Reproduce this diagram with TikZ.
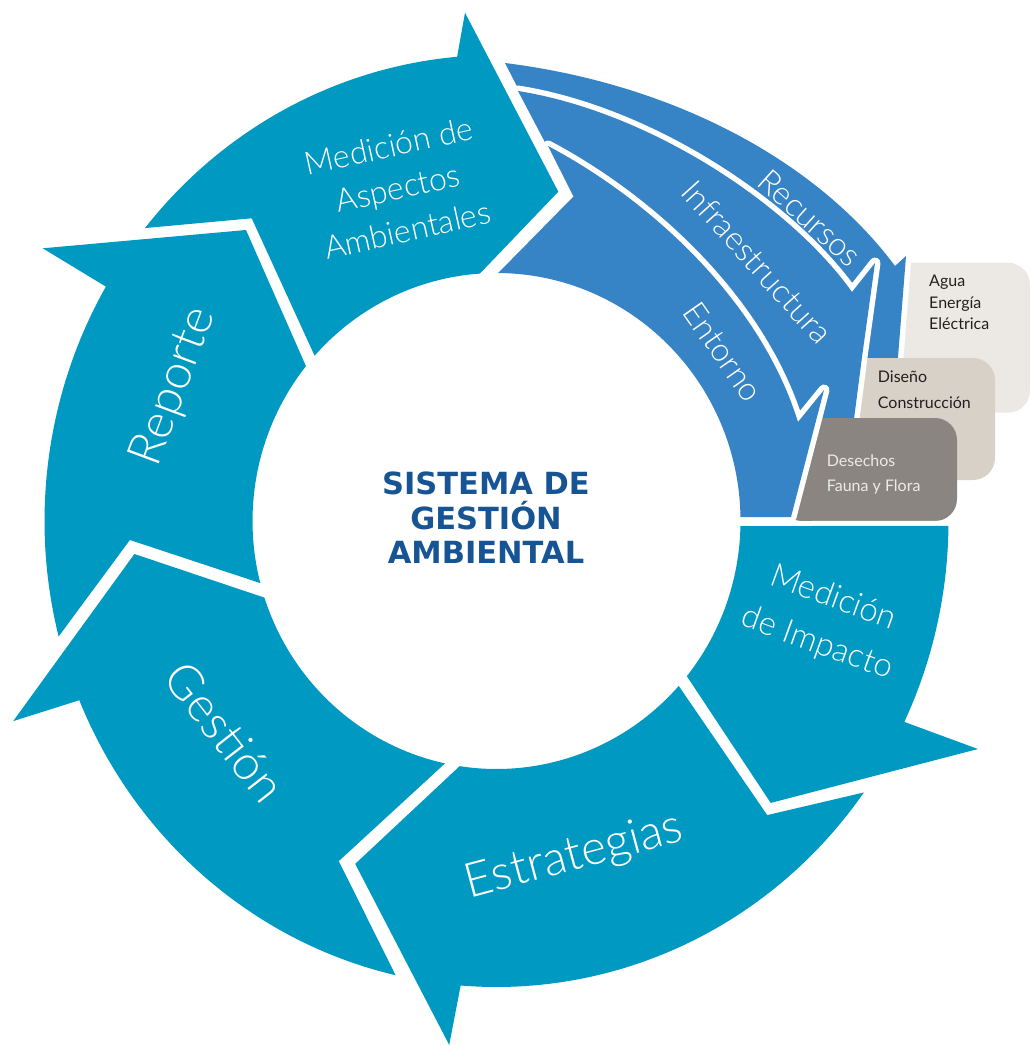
\documentclass[tikz,border=0pt]{standalone}
\usepackage{fontspec}
\setmainfont{Lato}
\newfontfamily\titlefont{DejaVu Sans}
\IfFontExistsTF{Lato Light}{\newfontfamily\lightfont{Lato Light}}{\newfontfamily\lightfont{Lato}}
\usetikzlibrary{calc}

\definecolor{ringteal}{HTML}{0099C2}
\definecolor{bandblue}{HTML}{3683C6}
\definecolor{titleblue}{HTML}{175494}
\definecolor{aguagray}{HTML}{ECE9E5}
\definecolor{disenobeige}{HTML}{D8D1C8}
\definecolor{desechosgray}{HTML}{8A8581}
\definecolor{boxtext}{HTML}{231F20}

\begin{document}
\begin{tikzpicture}[x=1pt, y=-1pt,
  outer ring/.style={x radius=452, y radius=466},
  inner ring/.style={x radius=244, y radius=248},
  segment/.style={fill=ringteal},
  band/.style={fill=bandblue, preaction={draw=white, line width=11pt, line join=round}},
  big label/.style={text=white, inner sep=0pt, font=\lightfont\fontsize{48}{48}\selectfont},
  ring label/.style={text=white, inner sep=0pt, align=center},
  band label/.style={text=white, inner sep=0pt, font=\lightfont\fontsize{32.5}{32.5}\selectfont},
  box label/.style={anchor=north west, inner sep=0pt, align=left, text=boxtext}]
\useasboundingbox (0,0) rectangle (1030,1046);
\coordinate (C) at (496.5,521);

% ring segments
\fill[segment] ($(C)+(-141.05:452 and 466)$) arc[outer ring, start angle=-141.05, end angle=-95]
  -- (465,12.7) -- (558.3,191.7) -- ($(C)+(-93.9:244 and 248)$)
  arc[inner ring, start angle=-93.9, end angle=-138.2] -- (251.7,218.3) -- cycle;
\fill[segment] ($(C)+(165.65:452 and 466)$) arc[outer ring, start angle=165.65, end angle=210.2]
  -- (42.7,248.3) -- (246,230) -- ($(C)+(218.65:244 and 248)$)
  arc[inner ring, start angle=218.65, end angle=165.5] -- (129.9,540) -- cycle;
\fill[segment] ($(C)+(102.9:452 and 466)$) arc[outer ring, start angle=102.9, end angle=157.38]
  -- (13.2,721.1) -- (134.4,554) -- ($(C)+(162:244 and 248)$)
  arc[inner ring, start angle=162, end angle=102.18] -- (338.8,861.1) -- cycle;
\fill[segment] ($(C)+(35.63:452 and 466)$) arc[outer ring, start angle=35.63, end angle=94.55]
  -- (449.2,1044.9) -- (355.2,863.9) -- ($(C)+(98.69:244 and 248)$)
  arc[inner ring, start angle=98.69, end angle=41.68] -- (767.2,815.1) -- cycle;

% boxes and bands, back to front
\fill[aguagray, rounded corners=22] (880,262.7) rectangle (1030,412.7);
\fill[band] (505,63) .. controls (680,85) and (820,165) .. (895,266) -- (906,256) -- (898,357)
  -- (885,440) -- (830,505) -- (780,505) -- ($(C)+(-3:244 and 248)$)
  arc[inner ring, start angle=-3, end angle=-89.6] -- (573.5,196.5) -- cycle;
\fill[disenobeige, rounded corners=22] (845,358) rectangle (995,480);
\fill[band] (518,91) .. controls (650,112) and (790,205) .. (852,292) -- (875,263) -- (862,357)
  -- (850,450) -- (820,505) -- (780,505) -- ($(C)+(-3:244 and 248)$)
  arc[inner ring, start angle=-3, end angle=-89.6] -- (573.5,196.5) -- cycle;
\fill[desechosgray, rounded corners=22] (780,418) rectangle (957,521);
\fill[band] (548,146) .. controls (650,200) and (760,300) .. (798,422) -- (824,390) -- (791,517)
  -- ($(C)+(-0.9:244 and 248)$)
  arc[inner ring, start angle=-0.9, end angle=-89.6] -- (573.5,196.5) -- cycle;

\fill[segment, preaction={draw=white, line width=10pt, line join=round}]
  ($(C)+(0.61:452 and 466)$) arc[outer ring, start angle=0.61, end angle=25.54]
  -- (977.9,749) -- (770.7,802.9) -- ($(C)+(38.73:244 and 248)$)
  arc[inner ring, start angle=38.73, end angle=1.16] -- cycle;

% texts
\node[text=titleblue, align=center, inner sep=0pt,
  font=\titlefont\bfseries\fontsize{30.5}{34.5}\selectfont] (title) at (486,518)
  {SISTEMA DE\\GESTIÓN\\AMBIENTAL};
\node[ring label, font=\lightfont\fontsize{32}{43}\selectfont, rotate=12.5] (aspectos) at (398,188)
  {Medición de\\Aspectos\\Ambientales};
\node[big label, rotate=69.6] (reporte) at (174.5,386.7) {Reporte};
\node[big label, rotate=-52] (gestion) at (225,732) {Gestión};
\node[big label, rotate=15] (estrategias) at (574,857) {Estrategias};
\node[ring label, font=\lightfont\fontsize{33}{48}\selectfont, rotate=-20] (impacto) at (825,621)
  {Medición\\de Impacto};
\node[band label, rotate=-42] (recursos) at (810,218) {Recursos};
\node[band label, rotate=-48] (infra) at (757,262) {Infraestructura};
\node[band label, rotate=-55] (entorno) at (723,352) {Entorno};

\node[box label, font=\fontsize{16}{21.7}\selectfont] (agua) at (929,274.7)
  {Agua\\Energía\\Eléctrica};
\node[box label, font=\fontsize{16}{26}\selectfont] (diseno) at (877.7,371)
  {Diseño\\Construcción};
\node[box label, font=\fontsize{16}{25}\selectfont, text=white!92!black] (desechos) at (826.7,454.7)
  {Desechos\\Fauna y Flora};
\end{tikzpicture}
\end{document}
